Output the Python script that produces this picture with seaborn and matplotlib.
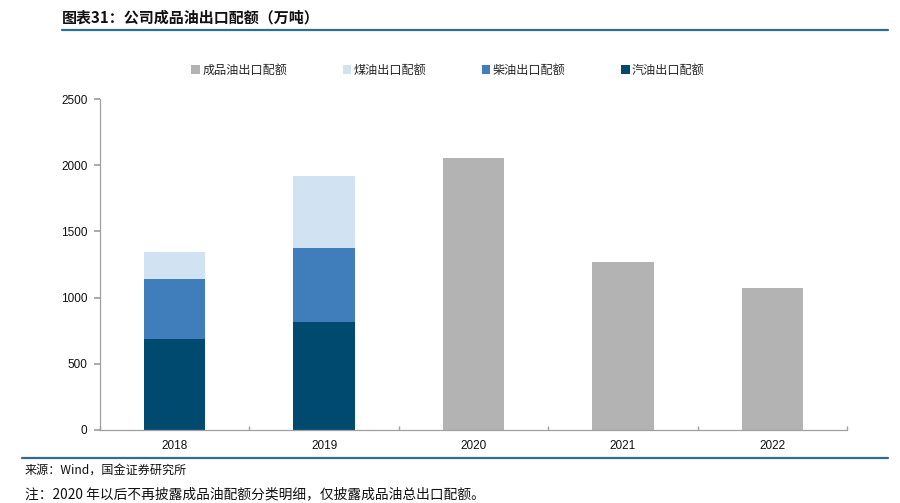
import matplotlib
matplotlib.use("Agg")
import matplotlib.pyplot as plt
import seaborn as sns
import pandas as pd
from matplotlib.patches import Patch
from matplotlib.lines import Line2D

years = ["2018", "2019", "2020", "2021", "2022"]
gasoline = [685, 813, 0, 0, 0]
diesel = [455, 564, 0, 0, 0]
jet = [207, 541, 0, 0, 0]
total_only = [0, 0, 2052, 1267, 1075]
series_names = ["成品油出口配额", "煤油出口配额", "柴油出口配额", "汽油出口配额"]
colors = ["#B3B3B3", "#D1E2F2", "#3F7EBB", "#00496F"]

sns.set_theme(style="white")
plt.rcParams['font.family'] = ['Noto Sans CJK SC', 'DejaVu Sans']

df = pd.DataFrame({"year": years, "gas": gasoline, "diesel": diesel, "jet": jet, "total": total_only})
df["lvl3"] = df["gas"] + df["diesel"] + df["jet"]
df["lvl2"] = df["gas"] + df["diesel"]
df["lvl1"] = df["gas"]

fig = plt.figure(figsize=(9, 5.03), dpi=100)
ax = fig.add_axes([100/900, 1-430/503, 747/900, 331/503])

w = 0.41
sns.barplot(data=df, x="year", y="total", order=years, color=colors[0], width=w, ax=ax, linewidth=0, saturation=1)
sns.barplot(data=df, x="year", y="lvl3", order=years, color=colors[1], width=w, ax=ax, linewidth=0, saturation=1)
sns.barplot(data=df, x="year", y="lvl2", order=years, color=colors[2], width=w, ax=ax, linewidth=0, saturation=1)
sns.barplot(data=df, x="year", y="lvl1", order=years, color=colors[3], width=w, ax=ax, linewidth=0, saturation=1)

ax.set_xlim(-0.5, 4.5)
ax.set_ylim(0, 2500)
ax.set_yticks([0, 500, 1000, 1500, 2000, 2500])
ax.set_xlabel("")
ax.set_ylabel("")
for s in ["top", "right"]:
    ax.spines[s].set_visible(False)
for s in ["left", "bottom"]:
    ax.spines[s].set_color("#A0A0A0")
    ax.spines[s].set_linewidth(0.9)
ax.tick_params(axis="y", which="both", direction="out", length=4, color="#A0A0A0", labelsize=8.5, pad=5, left=True)
ax.tick_params(axis="x", which="major", length=0, labelsize=8.5, pad=7)
ax.set_xticks([-0.5, 0.5, 1.5, 2.5, 3.5, 4.5], minor=True)
ax.tick_params(axis="x", which="minor", direction="in", length=3, color="#A0A0A0", bottom=True)
for lab in ax.get_xticklabels() + ax.get_yticklabels():
    lab.set_color("#111111")
    lab.set_family(["Liberation Sans", "DejaVu Sans"])

handles = [Patch(facecolor=c, edgecolor="none") for c in colors]
fig.legend(handles, series_names, loc="center", bbox_to_anchor=(448/900, 1-70/503), ncol=4,
           frameon=False, fontsize=8.7, handlelength=0.7, handleheight=0.7, handletextpad=0.2,
           columnspacing=4.6)

fig.text(62/900, 1-17/503, "图表31：公司成品油出口配额（万吨）", fontsize=10.8, fontweight="bold",
         style="italic", va="center", ha="left", color="#111111")
fig.add_artist(Line2D([62/900, 888/900], [1-30/503, 1-30/503], color="#2F6E8E", linewidth=1.6))
fig.add_artist(Line2D([22/900, 888/900], [1-458/503, 1-458/503], color="#2F6E8E", linewidth=1.6))
fig.text(25/900, 1-470/503, "来源：Wind，国金证券研究所", fontsize=8.7, va="center", ha="left", color="#111111")
fig.text(25/900, 1-494/503, "注：2020 年以后不再披露成品油配额分类明细，仅披露成品油总出口配额。", fontsize=9.9,
         va="center", ha="left", color="#111111")

fig.savefig("out.png", dpi=100)
